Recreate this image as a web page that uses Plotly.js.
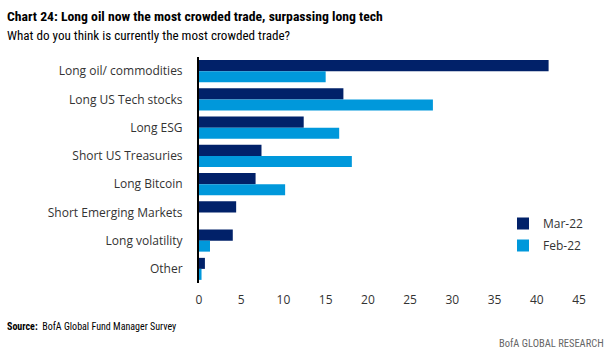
<!DOCTYPE html>
<html><head><meta charset="utf-8">
<script src="https://cdn.plot.ly/plotly-3.0.1.min.js"></script>
<style>body{margin:0;background:#fff}</style>
</head><body>
<div id="chart" style="width:613px;height:351px"></div>
<script>
const categories = ["Long oil/ commodities","Long US Tech stocks","Long ESG","Short US Treasuries","Long Bitcoin","Short Emerging Markets","Long volatility","Other"];
const mar22 = [41.4, 17.1, 12.4, 7.4, 6.7, 4.4, 4.0, 0.7];
const feb22 = [15.0, 27.7, 16.6, 18.1, 10.2, 0.0, 1.3, 0.3];
const xTicks = [0,5,10,15,20,25,30,35,40,45];

const W = 613, H = 351, L = 199, R = 34, T = 57, B = 68;
const pw = W - L - R, ph = H - T - B;
const px = p => (p - L) / pw;
const py = p => (H - B - p) / ph;

const font = "'Open Sans', 'DejaVu Sans', sans-serif";
const narrow = "'Liberation Sans Narrow', 'Roboto Condensed', 'Liberation Sans', sans-serif";

const traces = [
  {type:'bar', orientation:'h', name:'Mar-22', legendgroup:'a', y:categories, x:mar22, marker:{color:'#012169'}},
  {type:'bar', orientation:'h', name:'Feb-22', legendgroup:'b', y:categories, x:feb22, marker:{color:'#0098DB'}}
];

const layout = {
  width: W, height: H,
  margin: {l:L, r:R, t:T, b:B, pad:0},
  paper_bgcolor:'#fff', plot_bgcolor:'#fff',
  barmode:'group', bargap:0.22, bargroupgap:0,
  showlegend:true,
  legend:{x:px(503), y:py(209), xanchor:'left', yanchor:'top', font:{family:font, size:12, color:'#333'}, itemwidth:30,
          traceorder:'grouped', tracegroupgap:3, bgcolor:'rgba(0,0,0,0)'},
  xaxis:{range:[0,45], tickvals:xTicks, ticktext:xTicks.map(String), showgrid:false, zeroline:false, showline:false,
         ticks:'outside', ticklen:6, tickcolor:'rgba(0,0,0,0)', tickfont:{family:font, size:12, color:'#333'}, fixedrange:true},
  yaxis:{autorange:'reversed', showgrid:false, zeroline:false, showline:true, linecolor:'#000', linewidth:2,
         ticks:'outside', ticklen:12, tickcolor:'rgba(0,0,0,0)', tickfont:{family:font, size:12, color:'#333'}},
  annotations:[
    {xref:'paper', yref:'paper', x:px(5), y:py(16), xanchor:'left', yanchor:'middle', showarrow:false,
     text:'<b>Chart 24: Long oil now the most crowded trade, surpassing long tech</b>', font:{family:narrow, size:13.7, color:'#000'}},
    {xref:'paper', yref:'paper', x:px(5), y:py(35), xanchor:'left', yanchor:'middle', showarrow:false,
     text:'What do you think is currently the most crowded trade?', font:{family:narrow, size:13.1, color:'#000'}},
    {xref:'paper', yref:'paper', x:px(5), y:py(326), xanchor:'left', yanchor:'middle', showarrow:false,
     text:'<b>Source:</b>  BofA Global Fund Manager Survey', font:{family:narrow, size:10, color:'#000'}},
    {xref:'paper', yref:'paper', x:px(606), y:py(343), xanchor:'right', yanchor:'middle', showarrow:false,
     text:'BofA GLOBAL RESEARCH', font:{family:narrow, size:10.5, color:'#666'}}
  ]
};

Plotly.newPlot('chart', traces, layout, {displayModeBar:false, staticPlot:true});
</script>
</body></html>
